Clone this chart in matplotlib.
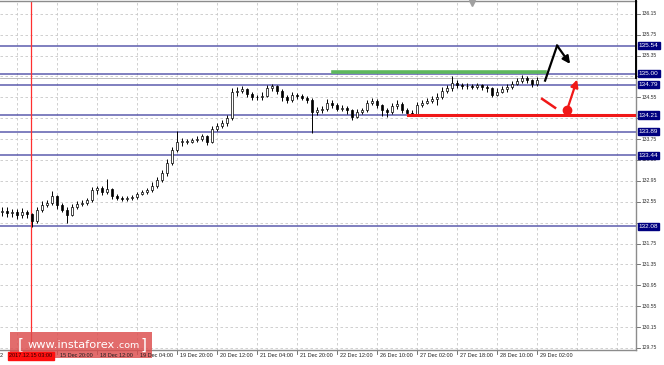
import numpy as np
import matplotlib
matplotlib.use("Agg")
import matplotlib.pyplot as plt
from matplotlib.patches import Rectangle
import matplotlib.transforms as mtransforms

# H2-ish candles (price)
closes = [132.38, 132.33, 132.36, 132.30, 132.35, 132.31, 132.18, 132.40, 132.48, 132.52,
          132.66, 132.48, 132.40, 132.30, 132.45, 132.50, 132.52, 132.58, 132.78, 132.82,
          132.74, 132.80, 132.66, 132.63, 132.60, 132.62, 132.64, 132.70, 132.73, 132.78,
          132.85, 132.96, 133.10, 133.30, 133.55, 133.70, 133.70, 133.70, 133.74, 133.76,
          133.80, 133.70, 133.95, 134.00, 134.05, 134.15, 134.65, 134.68, 134.70, 134.62,
          134.56, 134.55, 134.58, 134.72, 134.76, 134.68, 134.55, 134.50, 134.60, 134.58,
          134.54, 134.50, 134.27, 134.30, 134.32, 134.45, 134.40, 134.33, 134.35, 134.30,
          134.18, 134.27, 134.30, 134.45, 134.48, 134.40, 134.30, 134.27, 134.38, 134.43,
          134.30, 134.25, 134.24, 134.40, 134.45, 134.48, 134.52, 134.55, 134.68, 134.72,
          134.82, 134.78, 134.76, 134.77, 134.75, 134.78, 134.74, 134.72, 134.60, 134.66,
          134.70, 134.74, 134.81, 134.86, 134.92, 134.88, 134.80, 134.88]
highs = [132.45, 132.44, 132.42, 132.41, 132.43, 132.40, 132.34, 132.45, 132.56, 132.58,
         132.75, 132.68, 132.52, 132.44, 132.50, 132.56, 132.58, 132.63, 132.84, 132.86,
         132.85, 132.99, 132.82, 132.70, 132.66, 132.66, 132.68, 132.74, 132.78, 132.82,
         132.92, 133.02, 133.16, 133.36, 133.60, 133.91, 133.78, 133.75, 133.78, 133.80,
         133.85, 133.83, 134.00, 134.06, 134.12, 134.22, 134.72, 134.75, 134.77, 134.73,
         134.65, 134.60, 134.66, 134.79, 134.80, 134.78, 134.70, 134.60, 134.66, 134.64,
         134.62, 134.58, 134.53, 134.36, 134.38, 134.52, 134.50, 134.44, 134.41, 134.39,
         134.33, 134.32, 134.35, 134.50, 134.54, 134.52, 134.43, 134.35, 134.45, 134.49,
         134.46, 134.34, 134.30, 134.47, 134.50, 134.53, 134.57, 134.64, 134.74, 134.78,
         134.96, 134.88, 134.83, 134.82, 134.81, 134.83, 134.81, 134.78, 134.74, 134.72,
         134.76, 134.80, 134.86, 134.92, 134.98, 134.95, 134.90, 134.94]
lows = [132.28, 132.26, 132.25, 132.22, 132.24, 132.23, 132.06, 132.14, 132.36, 132.44,
        132.48, 132.42, 132.35, 132.15, 132.27, 132.41, 132.46, 132.48, 132.55, 132.70,
        132.68, 132.70, 132.60, 132.58, 132.56, 132.57, 132.59, 132.61, 132.67, 132.70,
        132.74, 132.82, 132.92, 133.05, 133.26, 133.50, 133.62, 133.65, 133.67, 133.70,
        133.72, 133.64, 133.68, 133.90, 133.96, 134.00, 134.12, 134.58, 134.63, 134.56,
        134.50, 134.49, 134.50, 134.55, 134.68, 134.62, 134.48, 134.44, 134.46, 134.52,
        134.49, 134.45, 133.87, 134.22, 134.25, 134.29, 134.35, 134.28, 134.29, 134.24,
        134.12, 134.15, 134.23, 134.27, 134.41, 134.34, 134.20, 134.18, 134.24, 134.33,
        134.25, 134.20, 134.19, 134.21, 134.36, 134.42, 134.44, 134.40, 134.52, 134.64,
        134.68, 134.72, 134.70, 134.71, 134.70, 134.71, 134.69, 134.66, 134.55, 134.57,
        134.63, 134.66, 134.71, 134.78, 134.83, 134.82, 134.74, 134.77]
first_open = 132.36

levels = [135.54, 135.00, 134.79, 134.21, 133.89, 133.44, 132.08]
bid = 134.92
green_level = 135.03
red_level = 134.21

price_ticks = [136.15, 135.75, 135.35, 134.95, 134.55, 134.15, 133.75, 133.35, 132.95,
               132.55, 132.15, 131.75, 131.35, 130.95, 130.55, 130.15, 129.75]
time_labels = ["15 Dec 20:00", "18 Dec 12:00", "19 Dec 04:00", "19 Dec 20:00",
               "20 Dec 12:00", "21 Dec 04:00", "21 Dec 20:00", "22 Dec 12:00",
               "26 Dec 10:00", "27 Dec 02:00", "27 Dec 18:00", "28 Dec 10:00",
               "29 Dec 02:00"]

# forecast arrows (bar index, price)
black_path_x = [108.6, 111.0, 113.6]
black_path_y = [134.87, 135.54, 135.19]
red_dash_x = [108.0, 110.6]
red_dash_y = [134.52, 134.35]
red_arrow_x = [113.0, 115.0]
red_arrow_y = [134.31, 134.89]

fig = plt.figure(figsize=(6.64, 3.65), dpi=100)
ax = fig.add_axes([0, 0.041, 0.958, 0.957])
ax.set_xlim(-0.4, 126.8)
ax.set_ylim(129.71, 136.40)

navy = "#000080"
grid_c = "#c8c8c8"

# grid
vgrid = np.arange(3, 127, 8)
for gx in vgrid:
    ax.axvline(gx, color=grid_c, lw=0.6, ls=(0, (3, 3)), zorder=0)
for py in price_ticks:
    ax.axhline(py, color=grid_c, lw=0.6, ls=(0, (3, 3)), zorder=0)

# levels
for lv in levels:
    ax.axhline(lv, color="#4040a0", lw=1.1, alpha=0.85, zorder=1)
ax.axhline(bid, color="#b0b0b0", lw=0.6, zorder=1)
ax.axvline(5.8, color="#ff3030", lw=0.9, zorder=1)

# candles
x = np.arange(len(closes))
opens = [first_open] + closes[:-1]
ax.vlines(x, lows, highs, color="black", lw=0.7, zorder=3)
for i in range(len(closes)):
    o, c = opens[i], closes[i]
    up = c >= o
    ax.bar(i, max(abs(c - o), 0.005), bottom=min(o, c), width=0.45,
           color="white" if up else "black", edgecolor="black", lw=0.5, zorder=4)

ax.plot([66.2, 108.6], [green_level, green_level], color="#5cb85c", lw=2.6, zorder=5)
ax.plot([81.2, 126.8], [red_level, red_level], color="#f01818", lw=2.2, zorder=5)

ax.plot(black_path_x[:2], black_path_y[:2], color="black", lw=1.6, zorder=6)
ax.annotate("", xy=(black_path_x[2], black_path_y[2]),
            xytext=(black_path_x[1], black_path_y[1]),
            arrowprops=dict(arrowstyle="-|>", color="black", lw=1.6,
                            mutation_scale=11, shrinkA=0, shrinkB=0), zorder=6)
ax.plot(red_dash_x, red_dash_y, color="#f01818", lw=1.8, zorder=6)
ax.plot(red_arrow_x[0], red_arrow_y[0], "o", color="#f01818", ms=6, zorder=6)
ax.annotate("", xy=(red_arrow_x[1], red_arrow_y[1]),
            xytext=(red_arrow_x[0], red_arrow_y[0]),
            arrowprops=dict(arrowstyle="-|>", color="#f01818", lw=1.6,
                            mutation_scale=11, shrinkA=0, shrinkB=0), zorder=6)

ax.plot(94, 136.36, marker="v", color="#a0a0a0", ms=4, clip_on=False, zorder=7)

# spines / ticks
ax.set_xticks([])
ax.set_yticks([])
ax.spines["left"].set_visible(False)
for s in ["top", "right", "bottom"]:
    ax.spines[s].set_color("#8c8c8c")
    ax.spines[s].set_linewidth(1.0)
ax.plot([1.0, 1.0], [bid, 136.40], color="black", lw=1.4,
        transform=mtransforms.blended_transform_factory(ax.transAxes, ax.transData),
        clip_on=False, zorder=7)

fnt = "Liberation Sans"
ytr = mtransforms.blended_transform_factory(ax.transAxes, ax.transData)
for py in price_ticks:
    ax.plot([1.0, 1.006], [py, py], color="#606060", lw=0.6, transform=ytr, clip_on=False)
    # labels hidden under the level boxes are not drawn
    if any(abs(py - lv) < 0.07 for lv in levels):
        continue
    ax.text(1.008, py, f"{py:.2f}", transform=ytr, fontsize=3.6, family=fnt,
            color="#303030", va="center", ha="left")
for lv in levels:
    ax.text(1.004, lv, f"{lv:.2f}", transform=ytr, fontsize=4.6, family=fnt,
            color="white", va="center", ha="left", zorder=8,
            bbox=dict(boxstyle="square,pad=0.18", fc=navy, ec=navy))

# watermark, drawn over the plot
fig.patches.append(Rectangle((10, 7), 142, 26, transform=None, fc="#dc4c4c",
                             ec="none", alpha=0.82, zorder=10))
fig.text(18 / 664, 20 / 365, "[", color="white", fontsize=11, va="center", zorder=11)
fig.text(28 / 664, 20 / 365, "www.instaforex", color="white", fontsize=8.2,
         va="center", zorder=11)
fig.text(116 / 664, 19 / 365, ".com", color="white", fontsize=6.8, va="center", zorder=11)
fig.text(141 / 664, 20 / 365, "]", color="white", fontsize=11, va="center", zorder=11)

# time axis labels on top of the watermark
xtr = mtransforms.blended_transform_factory(ax.transData, ax.transAxes)
for k, lab in enumerate(time_labels):
    gx = vgrid[k + 1]
    ax.plot([gx, gx], [0, -0.01], color="#606060", lw=0.6, transform=xtr, clip_on=False)
    fig.text(gx + 0.5, -0.016, lab, transform=xtr, fontsize=4.0, family=fnt,
             color="#202020", va="center", ha="left", zorder=12)
fig.text(5.8, -0.016, "2017.12.15 03:00", transform=xtr, fontsize=4.0, family=fnt,
         color="#300000", va="center", ha="center", zorder=13,
         bbox=dict(boxstyle="square,pad=0.25", fc="#ff1010", ec="#ff1010"))
fig.text(-0.4, -0.016, "2", transform=xtr, fontsize=4.0, family=fnt,
         color="#202020", va="center", ha="left", zorder=12)

fig.savefig("out.png", dpi=100)
